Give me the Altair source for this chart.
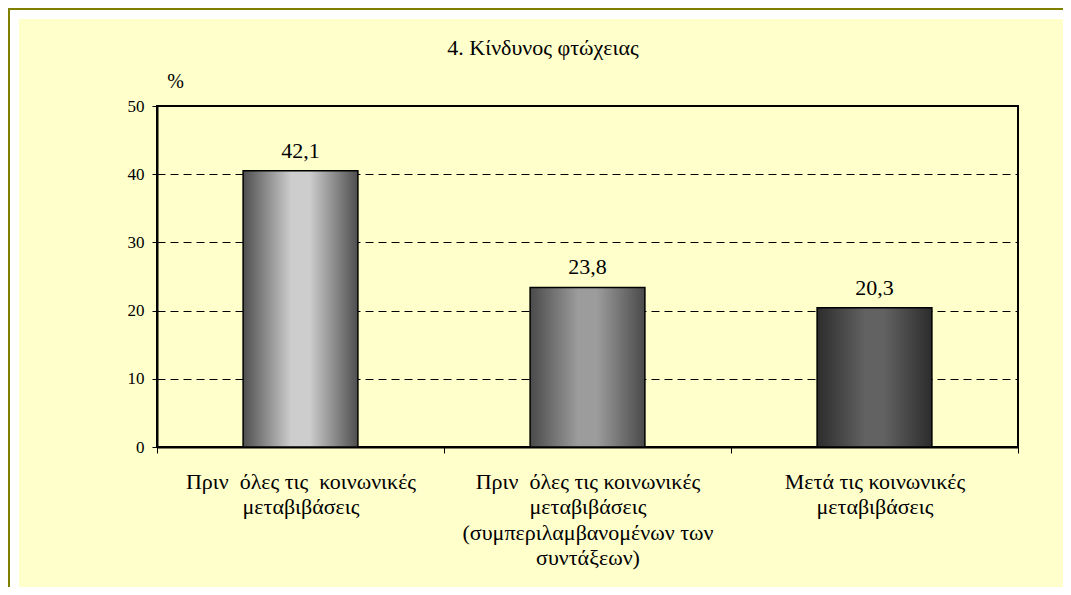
import altair as alt
import pandas as pd

# ---- data ----
categories = [
    "Πριν\u00a0 όλες τις\u00a0 κοινωνικές|μεταβιβάσεις",
    "Πριν\u00a0 όλες τις κοινωνικές|μεταβιβάσεις|(συμπεριλαμβανομένων των|συντάξεων)",
    "Μετά τις κοινωνικές|μεταβιβάσεις",
]
bar_heights = [40.5, 23.4, 20.4]          # heights as drawn in the picture
value_labels = ["42,1", "23,8", "20,3"]   # printed data labels
y_ticks = [0, 10, 20, 30, 40, 50]
title_text = ["4. Κίνδυνος φτώχειας"]

# cylinder-like shading for each bar: (edge colour, centre colour)
bar_shades = [("#4e4e4e", "#cdcdcd"), ("#4a4a4a", "#9c9c9c"), ("#2c2c2c", "#626262")]

df = pd.DataFrame({"cat": categories, "value": bar_heights, "label": value_labels})

FONT = "Liberation Serif, Times New Roman, serif"
W, H = 861, 341
PAD_L, PAD_T, PAD_R, PAD_B = 149, 98, 45, 140

x_enc = alt.X(
    "cat:N",
    sort=categories,
    scale=alt.Scale(paddingInner=0, paddingOuter=0),
    axis=alt.Axis(
        title=None,
        labelAngle=0,
        labelExpr="split(datum.label, '|')",
        labelFont=FONT,
        labelFontSize=22,
        labelColor="black",
        labelLineHeight=25.5,
        labelPadding=18,
        labelBaseline="top",
        labelLimit=500,
        tickBand="extent",
        tickSize=6,
        tickColor="black",
        tickWidth=1,
        domainColor="black",
        domainWidth=2,
        grid=False,
    ),
)
y_enc = alt.Y(
    "value:Q",
    scale=alt.Scale(domain=[0, 50], nice=False),
    axis=alt.Axis(
        values=y_ticks,
        title="%",
        titleAngle=0,
        titleX=18,
        titleY=-19,
        titleAlign="center",
        titleBaseline="alphabetic",
        titleFont=FONT,
        titleFontSize=20,
        titleFontWeight="normal",
        titleColor="black",
        labelFont=FONT,
        labelFontSize=17,
        labelColor="black",
        labelPadding=8,
        tickSize=5,
        tickColor="black",
        tickWidth=1,
        domainColor="black",
        domainWidth=2,
        grid=True,
        gridColor="black",
        gridDash=[8, 5],
        gridWidth=1,
    ),
)

layers = []

# frame decorations (white margin strip + olive border lines, top and left)
def deco(x1, x2, y1, y2, color):
    return alt.Chart(alt.Data(values=[{}])).mark_rect(color=color).encode(
        x=alt.value(x1), x2=alt.value(x2), y=alt.value(y1), y2=alt.value(y2)
    )

layers.append(deco(-PAD_L, W + PAD_R, -PAD_T, -PAD_T + 11, "white"))
layers.append(deco(-PAD_L, -PAD_L + 11, -PAD_T, H + PAD_B, "white"))
layers.append(deco(-PAD_L, W + PAD_R, -PAD_T, -PAD_T + 2, "#808000"))
layers.append(deco(-PAD_L, -PAD_L + 2, -PAD_T, H + PAD_B, "#808000"))

# chart title
layers.append(
    alt.Chart(alt.Data(values=[{"t": t} for t in title_text]))
    .mark_text(font=FONT, fontSize=22, color="black", baseline="alphabetic", align="center")
    .encode(x=alt.value(386), y=alt.value(-51), text="t:N")
)

for cat, (edge, centre) in zip(categories, bar_shades):
    grad = alt.Gradient(
        gradient="linear",
        x1=0, x2=1, y1=0, y2=0,
        stops=[
            alt.GradientStop(offset=0, color=edge),
            alt.GradientStop(offset=0.42, color=centre),
            alt.GradientStop(offset=0.58, color=centre),
            alt.GradientStop(offset=1, color=edge),
        ],
    )
    layers.append(
        alt.Chart(df)
        .transform_filter(alt.datum.cat == cat)
        .mark_bar(color=grad, stroke="black", strokeWidth=1.5, width=alt.RelativeBandSize(0.4))
        .encode(x=x_enc, y=y_enc)
    )

layers.append(
    alt.Chart(df)
    .mark_text(font=FONT, fontSize=22, color="black", baseline="alphabetic", dy=-13)
    .encode(x=alt.X("cat:N", sort=categories), y=alt.Y("value:Q"), text="label:N")
)

chart = (
    alt.layer(*layers)
    .properties(
        width=W,
        height=H,
        autosize=alt.AutoSizeParams(type="none"),
        padding={"left": PAD_L, "top": PAD_T, "right": PAD_R, "bottom": PAD_B},
        background="#FFFFCC",
    )
    .configure_view(stroke="black", strokeWidth=2, fill=None)
)

chart.save("out.html", embed_options={"renderer": "svg", "actions": False})
